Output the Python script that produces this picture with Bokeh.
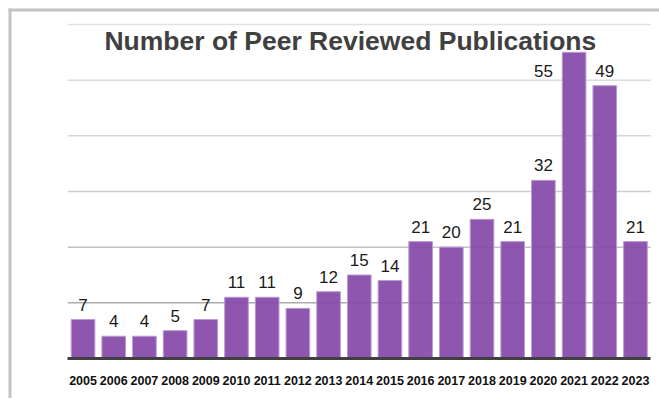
from bokeh.plotting import figure
from bokeh.models import (Range1d, FixedTicker, Label, ColumnDataSource,
                          BoxAnnotation)
from bokeh.core.properties import value
from bokeh.embed import file_html
from bokeh.resources import INLINE

years = [2005, 2006, 2007, 2008, 2009, 2010, 2011, 2012, 2013, 2014,
         2015, 2016, 2017, 2018, 2019, 2020, 2021, 2022, 2023]
counts = [7, 4, 4, 5, 7, 11, 11, 9, 12, 15, 14, 21, 20, 25, 21, 32, 55, 49, 21]
title_text = "Number of Peer Reviewed Publications"
grid_levels = [10, 20, 30, 40, 50, 60]
grid_colors = ["#acacac", "#c2c2c2", "#cdcdcd", "#d6d6d6", "#dcdcdc", "#e2e2e2"]

FONT = "Liberation Sans"
BAR = "#8549a9"

# canvas geometry (pixels)
W, H = 659, 398
PX_X, PX_Y = 30.69, 5.567          # pixels per year / per publication
LEFT_PAD, BASE_Y = 67.2, 358       # plot-area left edge, baseline from canvas top
FRAME = 8                          # offset of the light outer frame

x_lo, x_hi = years[0] - 0.5, years[-1] + 0.5
xs = x_lo - LEFT_PAD / PX_X
ys = -(H - BASE_Y) / PX_Y

p = figure(width=W, height=H,
           x_range=Range1d(xs, xs + W / PX_X),
           y_range=Range1d(ys, ys + H / PX_Y),
           output_backend="svg", toolbar_location=None,
           min_border=0, min_border_left=0, min_border_right=0,
           min_border_top=0, min_border_bottom=0)
p.outline_line_color = None
p.background_fill_color = "white"
p.border_fill_color = "white"
p.xgrid.visible = False
p.ygrid.visible = False
p.yaxis.visible = False

# light frame round the chart (only its left and top edges are in view)
for l, r, t, b in [(FRAME, FRAME + 3, FRAME, H), (FRAME, W, FRAME, FRAME + 3)]:
    p.add_layout(BoxAnnotation(left=l, right=r, top=t, bottom=b,
                               left_units="canvas", right_units="canvas",
                               top_units="canvas", bottom_units="canvas",
                               fill_color="#c3c3c3", fill_alpha=1,
                               line_color=None))

# horizontal gridlines over the plot area only
gsrc = ColumnDataSource(dict(x0=[x_lo] * len(grid_levels),
                             x1=[x_hi] * len(grid_levels),
                             y=grid_levels, c=grid_colors))
p.segment(x0="x0", x1="x1", y0="y", y1="y", source=gsrc,
          line_color="c", line_width=1.5)

src = ColumnDataSource(dict(x=years, top=counts))
p.vbar(x="x", top="top", width=0.77, source=src, fill_color=BAR,
       fill_alpha=0.93, line_color="#b99bd3", line_width=1)

ymax = grid_levels[-1]
lab_x, lab_y, lab_t = [], [], []
for i, (yr, c) in enumerate(zip(years, counts)):
    if c > ymax - 8:
        lab_x.append(yr - 1)
        lab_y.append(counts[i + 1] if i + 1 < len(counts) else c)
    else:
        lab_x.append(yr)
        lab_y.append(c)
    lab_t.append(str(c))
lsrc = ColumnDataSource(dict(x=lab_x, y=lab_y, t=lab_t))
p.text(x="x", y="y", text="t", source=lsrc, text_align="center",
       text_baseline="alphabetic", y_offset=-15,
       text_font=value(FONT), text_font_size="17px", text_color="#1a1a1a")

ax = p.xaxis[0]
ax.fixed_location = 0
ax.bounds = (x_lo, x_hi)
ax.ticker = FixedTicker(ticks=years)
ax.major_label_overrides = {y: str(y) for y in years}
ax.major_tick_line_color = None
ax.minor_tick_line_color = None
ax.axis_line_color = "#404040"
ax.axis_line_width = 3
ax.major_label_standoff = 11
ax.major_label_text_font = FONT
ax.major_label_text_font_style = "bold"
ax.major_label_text_font_size = "12.5px"
ax.major_label_text_color = "#111111"

title = Label(x=2013.71, y=57, text=title_text, text_align="center",
              text_baseline="alphabetic", text_font=FONT,
              text_font_style="bold", text_font_size="26.5px",
              text_color="#404040")
p.add_layout(title)

open("out.html", "w").write(file_html(p, INLINE))
